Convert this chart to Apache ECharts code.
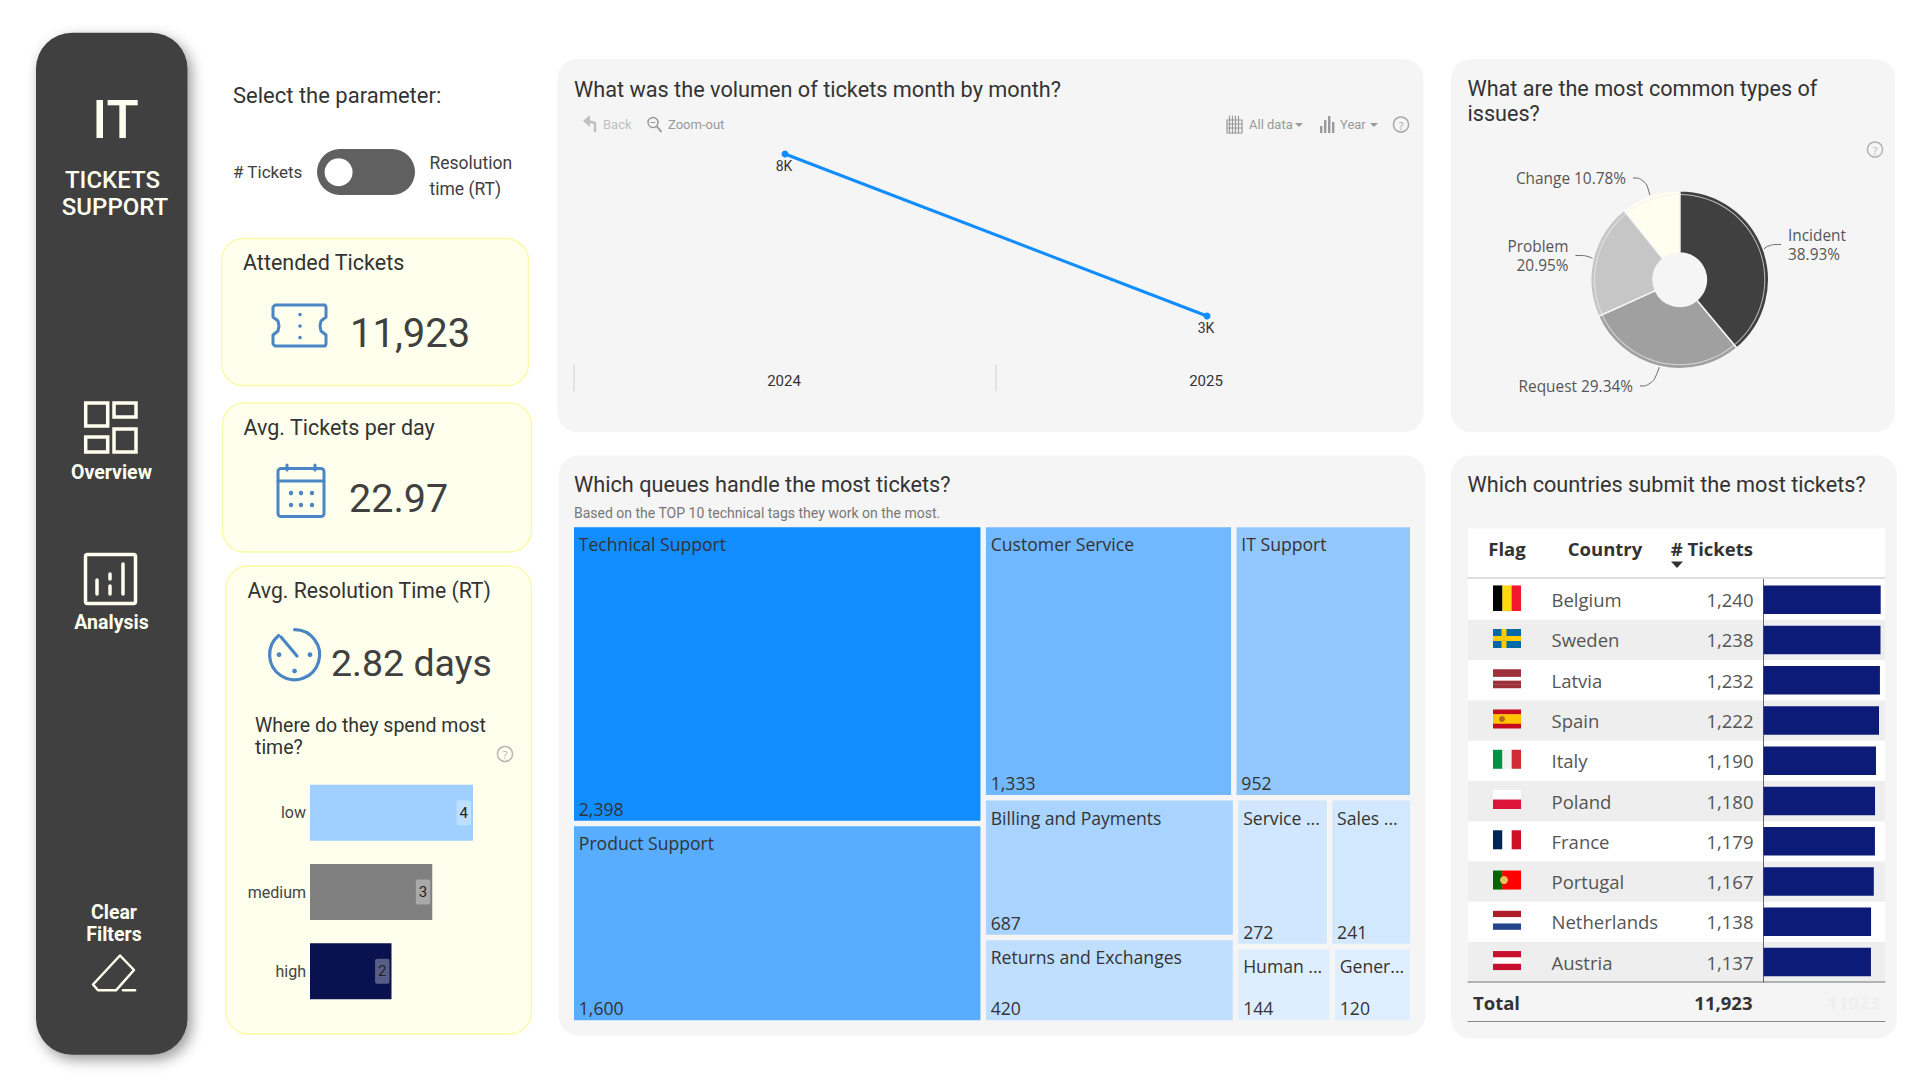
<!DOCTYPE html>
<html><head><meta charset="utf-8">
<style>html,body{margin:0;padding:0;background:#fff;overflow:hidden}#c{width:1920px;height:1080px}</style>
<script src="https://cdn.jsdelivr.net/npm/echarts@6/dist/echarts.min.js"></script>
</head><body><div id="c"></div>
<script>
// ---------- data ----------
const yearLabels = ['2024', '2025'];
const yearVolumes = [8000, 3000];
const issueTypes = ['Incident', 'Request', 'Problem', 'Change'];
const issueShares = [38.93, 29.34, 20.95, 10.78];
const issueColors = ['#404040', '#A0A0A0', '#C6C6C6', '#FFFFF0'];
const queueNames = ['Technical Support', 'Product Support', 'Customer Service', 'IT Support', 'Billing and Payments', 'Returns and Exchanges', 'Service ...', 'Sales ...', 'Human ...', 'Gener...'];
const queueValues = [2398, 1600, 1333, 952, 687, 420, 272, 241, 144, 120];
const queueColors = ['#118DFF', '#58ADFF', '#70B8FF', '#93C8FF', '#A8D4FF', '#C0DFFF', '#D0E7FF', '#D2E8FF', '#DFEEFF', '#E0EFFF'];
const countries = ['Belgium', 'Sweden', 'Latvia', 'Spain', 'Italy', 'Poland', 'France', 'Portugal', 'Netherlands', 'Austria'];
const countryTickets = [1240, 1238, 1232, 1222, 1190, 1180, 1179, 1167, 1138, 1137];
const priorityLevels = ['low', 'medium', 'high'];
const priorityDays = [4, 3, 2];
const priorityColors = ['#9FD0FF', '#808080', '#0A114F'];
const flagStripes = [
  ['v', ['#000000', '#FFD90C', '#F31830']], ['h', ['#006AA7']], ['h', ['#9E3039', '#9E3039', '#FFFFFF', '#9E3039', '#9E3039']],
  ['h', ['#C60B1E', '#FFC400', '#FFC400', '#C60B1E']], ['v', ['#009246', '#F1F2F1', '#CE2B37']], ['h', ['#FFFFFF', '#DC143C']],
  ['v', ['#002654', '#FFFFFF', '#CE1126']], ['v', ['#006600', '#FF0000', '#FF0000']], ['h', ['#AE1C28', '#FFFFFF', '#21468B']], ['h', ['#C8102E', '#FFFFFF', '#C8102E']]
];
const cream = '#FFFFF0', ink = '#404040', icon = '#4A86C5';
const din = 'Roboto', seg = '"Open Sans"';

// ---------- graphic helpers ----------
const g = [];
const T = (text, x, y, size, fill, o = {}) => g.push({ type: 'text', silent: true, style: { text, x, y, fill, fontSize: size, fontFamily: o.font || din, fontWeight: o.w || 400, textAlign: o.a || 'left', textVerticalAlign: 'middle' } });
const R = (x, y, w, h, fill, o = {}) => g.push({ type: 'rect', silent: true, shape: { x, y, width: w, height: h, r: o.r || 0 }, style: { fill, stroke: o.s || null, lineWidth: o.lw || 0, shadowBlur: o.sb || 0, shadowOffsetX: o.sx || 0, shadowOffsetY: o.sy || 0, shadowColor: o.sc || null } });
const L = (pts, stroke, lw, close) => g.push({ type: close ? 'polygon' : 'polyline', silent: true, shape: { points: pts }, style: { fill: null, stroke, lineWidth: lw, lineJoin: 'round', lineCap: 'round' } });
const F = (pts, fill) => g.push({ type: 'polygon', silent: true, shape: { points: pts }, style: { fill } });
const C = (cx, cy, r, fill, stroke, lw) => g.push({ type: 'circle', silent: true, shape: { cx, cy, r }, style: { fill: fill || null, stroke: stroke || null, lineWidth: lw || 0 } });
const A = (cx, cy, r, a0, a1, stroke, lw) => g.push({ type: 'arc', silent: true, shape: { cx, cy, r, startAngle: a0, endAngle: a1, clockwise: true }, style: { fill: null, stroke, lineWidth: lw, lineCap: 'round' } });
const helpIcon = (x, y, c = '#B5B5B5') => { C(x, y, 7.5, null, c, 1.5); T('?', x, y + .5, 11, c, { a: 'center', font: seg }); };

// ---------- sidebar ----------
R(36, 32.7, 151.5, 1022, ink, { r: 36, sb: 14, sx: 4, sy: 5, sc: 'rgba(0,0,0,.4)' });
T('IT', 115.5, 120, 53, cream, { a: 'center', w: 500 });
T('TICKETS', 112.5, 179.5, 24, cream, { a: 'center', w: 500 });
T('SUPPORT', 115, 207, 24, cream, { a: 'center', w: 500 });
[[85.7, 403, 22, 23], [114, 403, 22, 14], [85.7, 437, 22, 15], [114, 429, 22, 23]].forEach(b => R(b[0], b[1], b[2], b[3], null, { s: cream, lw: 3.5 }));
T('Overview', 111.5, 472.5, 19.5, cream, { a: 'center', w: 700 });
R(85.5, 554.5, 50, 49, null, { s: cream, lw: 3.5, r: 2 });
L([[97, 580], [97, 594]], cream, 3.5); L([[110, 574], [110, 579]], cream, 3.5); L([[110, 586], [110, 594]], cream, 3.5); L([[123, 564], [123, 594]], cream, 3.5);
T('Analysis', 111.5, 622, 19.5, cream, { a: 'center', w: 700 });
T('Clear', 114, 912.5, 19.5, cream, { a: 'center', w: 700 });
T('Filters', 114, 934, 19.5, cream, { a: 'center', w: 700 });
L([[120, 955.5], [134, 970], [116, 990.3], [98, 990.3], [93, 984.5]], cream, 2.5, true);
L([[123, 990.3], [135, 990.3]], cream, 2.5);

// ---------- parameter switch ----------
T('Select the parameter:', 233, 95.5, 22, '#333');
T('# Tickets', 233, 172, 17, ink);
R(317, 149, 98, 46, '#606060', { r: 23 });
C(338.6, 172.2, 14, '#FFFFFF');
T('Resolution', 429.5, 163, 17.5, ink);
T('time (RT)', 429.5, 188.5, 17.5, ink);

// ---------- KPI cards ----------
const cardStyle = { r: 22, s: '#FBF9A8', lw: 1.5 };
R(221.5, 238.6, 307, 147, '#FEFFEC', cardStyle);
R(222.5, 403, 309, 149, '#FEFFEC', cardStyle);
R(226, 566, 305.5, 468, '#FEFFEC', cardStyle);
T('Attended Tickets', 243, 262.3, 21.5, '#333');
T('11,923', 350, 333, 40, ink);
L([[275, 305], [325, 305], [326, 307], [326, 317], [321, 321], [320, 326], [321, 331], [326, 335], [326, 344], [325, 346], [275, 346], [273, 344], [273, 335], [278, 331], [279, 326], [278, 321], [273, 317], [273, 307]], icon, 3, true);
[314.5, 326, 337.5].forEach(y => C(300, y, 1.8, icon));
T('Avg. Tickets per day', 243.5, 427, 21.5, '#333');
T('22.97', 349, 498, 39.5, ink);
R(278, 468.5, 46, 48, null, { s: icon, lw: 3, r: 3 });
L([[278, 481], [324, 481]], icon, 3); L([[287, 465], [287, 470]], icon, 3); L([[315, 465], [315, 470]], icon, 3);
[[291, 493], [301, 493], [312, 493], [291, 505], [301, 505], [312, 505]].forEach(p => C(p[0], p[1], 2.2, icon));
T('Avg. Resolution Time (RT)', 247.5, 590, 21.2, '#333');
A(294.6, 654.7, 25, -Math.PI / 2, -Math.PI * 0.72, icon, 3.2);
L([[281, 637], [297, 656]], icon, 3.2);
[[279, 654.7], [310, 654.7], [294.6, 671]].forEach(p => C(p[0], p[1], 2.4, icon));
T('2.82 days', 331, 662.5, 37.5, ink);
T('Where do they spend most', 255, 725, 19.5, '#333');
T('time?', 255, 747.5, 19.5, '#333');
helpIcon(505, 754);

// ---------- right panels ----------
const panel = '#F5F5F5';
R(557.5, 59, 866, 373, panel, { r: 20 });
R(1451, 59, 444, 373, panel, { r: 20 });
R(558.5, 455.5, 867, 580, panel, { r: 20 });
R(1451, 455.5, 446, 583, panel, { r: 20 });

// line-chart panel
T('What was the volumen of tickets month by month?', 574, 89.5, 21.7, '#333');
const off = '#C0C0C0', tb = '#9A9A9A';
L([[595, 131], [595, 123], [588, 121]], off, 2.5); F([[583, 121], [590, 115], [590, 127]], off);
T('Back', 603, 124.5, 13, off);
C(653, 122.5, 5, null, tb, 1.5); L([[657, 126.5], [661, 131.5]], tb, 2); L([[651, 122.5], [655, 122.5]], tb, 1.2);
T('Zoom-out', 668, 124.5, 13, tb);
R(1227, 120, 15, 13, null, { s: tb, lw: 1.2 }); [1229.5, 1232.5, 1235.5, 1238.5].forEach(x => L([[x, 116], [x, 133]], tb, 1.2)); [124, 128].forEach(y => L([[1227, y], [1242, y]], tb, 1));
T('All data', 1249, 124.5, 13, tb); F([[1295, 123], [1303, 123], [1299, 127]], tb);
[[1320, 126], [1324, 120], [1328, 116], [1332, 122]].forEach(b => R(b[0], b[1], 2.4, 133 - b[1], tb));
T('Year', 1340, 124.5, 13, tb); F([[1370, 123], [1378, 123], [1374, 127]], tb);
helpIcon(1401, 124.5, '#AAA');
L([[574, 365], [574, 391]], '#CFCFCF', 1); L([[996, 365], [996, 391]], '#CFCFCF', 1);

// pie panel
T('What are the most common types of', 1467.5, 88.5, 21.6, '#333');
T('issues?', 1467.5, 113.5, 21.6, '#333');
helpIcon(1875, 149.5);

// treemap panel
T('Which queues handle the most tickets?', 574, 484.5, 21.7, '#333');
T('Based on the TOP 10 technical tags they work on the most.', 574, 513, 14, '#777');

// table panel
T('Which countries submit the most tickets?', 1467.5, 484.5, 21.7, '#333');
const rowTop = 579.6, rowH = 40.26, tableL = 1468, tableR = 1885;
R(tableL, 528.5, tableR - tableL, 453.5, '#FFFFFF');
countries.forEach((c, i) => { if (i % 2) R(tableL, rowTop + i * rowH, tableR - tableL, rowH, '#EEEEEE'); });
L([[tableL, 578], [tableR, 578]], '#BDBDBD', 1);
L([[tableL, 982], [tableR, 982]], '#777', 1.2);
L([[tableL, 1021.5], [tableR, 1021.5]], '#888', 1);
T('Flag', 1507, 548, 18.5, '#333', { a: 'center', font: seg, w: 700 });
T('Country', 1605, 548, 18.5, '#333', { a: 'center', font: seg, w: 700 });
T('# Tickets', 1753, 548, 18.5, '#333', { a: 'right', font: seg, w: 700 });
F([[1671, 561.5], [1683, 561.5], [1677, 568]], '#333');
T('Total', 1473, 1002.5, 18.5, '#333', { font: seg, w: 700 });
T('11,923', 1752.5, 1002.5, 18.5, '#333', { a: 'right', font: seg, w: 700 });
T('11923', 1880, 1002.5, 18.5, '#EFEFEF', { a: 'right', font: seg, w: 700 });
flagStripes.forEach((f, i) => {
  const h = i === 0 ? 25.6 : 19, w = 28, x = 1493, y = rowTop + (i + .5) * rowH - 1.5 - h / 2, n = f[1].length;
  f[1].forEach((col, k) => { if (f[0] === 'v') R(x + k * w / n, y, w / n + (k < n - 1 ? .3 : 0), h, col); else R(x, y + k * h / n, w, h / n + (k < n - 1 ? .3 : 0), col); });
  if (i === 1) { R(x + 8.5, y, 5, h, '#FECC00'); R(x, y + h / 2 - 2.5, w, 5, '#FECC00'); }
  if (i === 3) C(x + 9, y + h / 2, 3, '#B5651D');
  if (i === 7) C(x + 11, y + h / 2, 4, '#E8C060');
});

// ---------- series ----------
const leaf = (i, val) => ({ name: queueNames[i], value: queueValues[i], itemStyle: { color: val ? 'rgba(0,0,0,0)' : queueColors[i] } });
const group = (children) => ({ name: '', value: children.reduce((s, c) => s + c.value, 0), children, itemStyle: { color: 'rgba(0,0,0,0)' }, label: { show: false } });
const queueTree = (val) => [
  group([leaf(0, val), leaf(1, val)]),
  group([leaf(2, val), leaf(3, val),
    group([group([leaf(4, val), leaf(5, val)]), group([leaf(6, val), leaf(7, val), leaf(8, val), leaf(9, val)])])])
];
const treemapBase = {
  type: 'treemap', left: 574, top: 527.3, width: 836, height: 493, sort: false, squareRatio: 1.46,
  roam: false, nodeClick: false, breadcrumb: { show: false }, animation: false, silent: true,
  itemStyle: { gapWidth: 5.5, borderWidth: 0, borderColor: 'rgba(0,0,0,0)' }
};
const option = {
  animation: false,
  graphic: { elements: g },
  grid: [
    { left: 574, top: 137.8, width: 844, height: 226.8 },
    { left: 310, top: 773, width: 163, height: 238 },
    { left: 1763.5, top: rowTop, width: 117.2, height: rowH * 10 }
  ],
  xAxis: [
    { type: 'category', gridIndex: 0, data: yearLabels, axisLine: { show: false }, axisTick: { show: false }, axisLabel: { color: '#333', fontSize: 15, fontFamily: din, margin: 9, padding: [0, 2, 0, 0] } },
    { type: 'value', gridIndex: 1, min: 0, max: 4, show: false },
    { type: 'value', gridIndex: 2, min: 0, max: 1240, show: false }
  ],
  yAxis: [
    { type: 'value', gridIndex: 0, min: 1500, max: 8500, show: false },
    { type: 'category', gridIndex: 1, inverse: true, data: priorityLevels, axisLine: { show: false }, axisTick: { show: false }, axisLabel: { color: '#444', fontSize: 16, fontFamily: din, margin: 4 } },
    { type: 'category', gridIndex: 2, inverse: true, data: countries, axisLine: { lineStyle: { color: '#555', type: 'dotted' } }, axisTick: { show: false }, axisLabel: { color: '#555', fontSize: 18.5, fontFamily: seg, align: 'left', margin: 212 } }
  ],
  series: [
    { type: 'line', xAxisIndex: 0, yAxisIndex: 0, data: yearVolumes, symbol: 'circle', symbolSize: 7, lineStyle: { color: '#118DFF', width: 3 }, itemStyle: { color: '#118DFF' },
      label: { show: true, position: 'bottom', distance: 1, offset: [-1, 0], color: '#333', fontSize: 14, fontFamily: din, formatter: p => (p.value / 1000) + 'K' } },
    { type: 'bar', xAxisIndex: 1, yAxisIndex: 1, barWidth: 56, data: priorityDays.map((v, i) => ({ value: v, itemStyle: { color: priorityColors[i] } })),
      label: { show: true, position: 'insideRight', distance: 2, color: '#222', fontSize: 15, fontFamily: din, backgroundColor: 'rgba(255,255,255,.32)', borderRadius: 2, padding: [5, 3] } },
    { type: 'bar', xAxisIndex: 2, yAxisIndex: 2, barWidth: 28.5, data: countryTickets, itemStyle: { color: '#0D1B78' },
      label: { show: true, position: [-10, '50%'], align: 'right', verticalAlign: 'middle', color: '#555', fontSize: 18.5, fontFamily: seg, formatter: p => p.value.toLocaleString('en-US') } },
    { type: 'pie', center: [1679.7, 279.7], radius: [26.7, 89], startAngle: 90, silent: true,
      data: issueTypes.map((n, i) => ({ name: n, value: issueShares[i], itemStyle: { color: issueColors[i] } })),
      itemStyle: { borderColor: panel, borderWidth: 1.5 },
      label: { color: '#555', fontSize: 15.4, fontFamily: seg, lineHeight: 19, padding: [0, 7], formatter: p => p.name + ((p.name === 'Incident' || p.name === 'Problem') ? '\n' : ' ') + p.value.toFixed(2) + '%' },
      labelLine: { show: true, smooth: 0.5, length: 14, length2: 12, lineStyle: { color: '#666', width: 1 } },
      labelLayout: p => [{ x: 1781, y: 244.5, align: 'left', verticalAlign: 'middle' }, { x: 1640, y: 386, align: 'right', verticalAlign: 'middle' }, { x: 1575.5, y: 255.5, align: 'right', verticalAlign: 'middle' }, { x: 1633, y: 178, align: 'right', verticalAlign: 'middle' }][p.dataIndex]
    },
    { type: 'pie', center: [1679.7, 279.7], radius: [84.6, 85.6], silent: true, label: { show: false }, labelLine: { show: false }, data: [{ value: issueShares.reduce((a, b) => a + b, 0), itemStyle: { color: 'rgba(240,240,240,.7)' } }] },
    Object.assign({}, treemapBase, { data: queueTree(false), label: { show: true, position: 'insideTopLeft', distance: 4, offset: [-4.2, -1], overflow: 'none', color: '#333', fontSize: 17.6, fontFamily: seg, formatter: p => p.data.children ? '' : p.name }, upperLabel: { show: false } }),
    Object.assign({}, treemapBase, { data: queueTree(true), label: { show: true, position: 'insideBottomLeft', distance: 4, offset: [-4.2, 6], color: '#333', fontSize: 17.6, fontFamily: seg, formatter: p => p.data.children ? '' : p.value.toLocaleString('en-US') }, upperLabel: { show: false } })
  ]
};
const chart = echarts.init(document.getElementById('c'), null, { renderer: 'svg', width: 1920, height: 1080 });
chart.setOption(option);
</script></body></html>
